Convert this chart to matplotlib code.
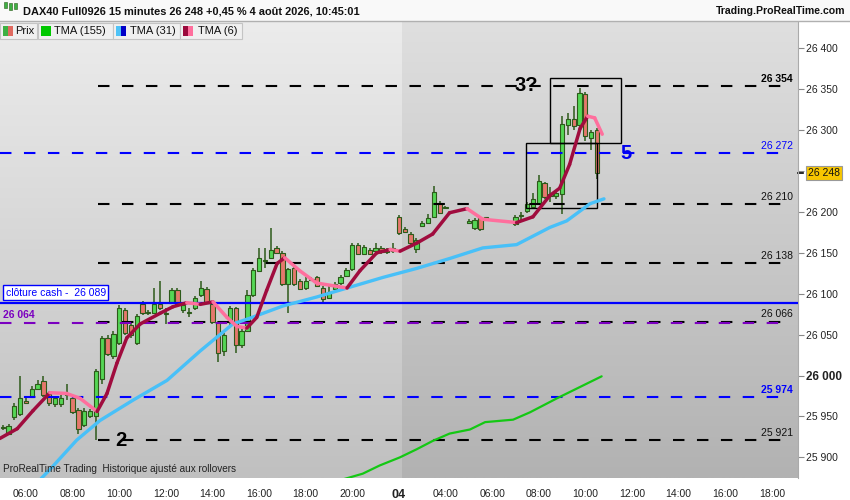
import matplotlib
matplotlib.use("Agg")
import matplotlib.pyplot as plt
import numpy as np
from matplotlib.patches import Rectangle
from matplotlib.collections import LineCollection
import matplotlib.transforms as mtransforms

plt.rcParams['font.family'] = ['Liberation Sans', 'DejaVu Sans']

# 15 minute bars (index), overnight gaps have no bars
bar_idx = list(range(0, 77)) + list(range(80, 84)) + list(range(88, 103))
opens = [25936, 25929, 25949, 25953, 25969, 25974, 25984, 25993, 25978, 25965,
         25965, 25976, 25972, 25958, 25940, 25951, 25951, 25996, 26046, 26024,
         26040, 26080, 26062, 26040, 26088, 26077, 26077, 26088, 26075, 26089,
         26105, 26080, 26077, 26082, 26098, 26106, 26088, 26065, 26030, 26065,
         26082, 26037, 26055, 26098, 26128, 26140, 26144, 26156, 26150, 26112,
         26132, 26116, 26107, 26117, 26120, 26107, 26095, 26106, 26113, 26122,
         26130, 26160, 26149, 26154, 26152, 26156, 26154, 26152, 26194, 26179,
         26173, 26155, 26183, 26187, 26194, 26211, 26205,
         26187, 26180, 26193, 26193,
         26185, 26195, 26201, 26206, 26210, 26235, 26219, 26220, 26222, 26306,
         26313, 26306, 26344, 26290, 26300]
highs = [25939, 25941, 25966, 25999, 25972, 25987, 25994, 26000, 25980, 25975,
         25976, 25990, 25975, 25960, 25960, 25959, 26008, 26048, 26049, 26054,
         26086, 26083, 26064, 26075, 26091, 26080, 26107, 26116, 26082, 26107,
         26107, 26088, 26082, 26097, 26116, 26108, 26090, 26067, 26052, 26085,
         26084, 26057, 26104, 26131, 26156, 26156, 26180, 26158, 26152, 26132,
         26134, 26118, 26120, 26121, 26122, 26109, 26110, 26114, 26123, 26131,
         26162, 26162, 26159, 26156, 26162, 26158, 26156, 26162, 26196, 26181,
         26175, 26168, 26189, 26197, 26232, 26213, 26207,
         26191, 26192, 26195, 26194,
         26196, 26200, 26212, 26223, 26245, 26237, 26231, 26226, 26317, 26321,
         26330, 26351, 26346, 26300, 26302]
lows = [25933, 25927, 25946, 25950, 25965, 25972, 25982, 25974, 25963, 25962,
        25962, 25970, 25953, 25929, 25937, 25948, 25921, 25990, 26024, 26020,
        26037, 26050, 26046, 26037, 26074, 26074, 26075, 26080, 26063, 26087,
        26086, 26076, 26072, 26080, 26096, 26087, 26063, 26016, 26024, 26062,
        26028, 26034, 26053, 26096, 26126, 26132, 26142, 26148, 26110, 26076,
        26110, 26104, 26105, 26116, 26108, 26089, 26093, 26104, 26111, 26120,
        26128, 26147, 26147, 26147, 26150, 26149, 26149, 26150, 26172, 26175,
        26160, 26150, 26181, 26185, 26192, 26197, 26203,
        26185, 26178, 26177, 26192,
        26183, 26190, 26199, 26204, 26208, 26216, 26212, 26216, 26198, 26294,
        26300, 26302, 26287, 26276, 26240]
closes = [25936, 25938, 25963, 25972, 25967, 25984, 25990, 25976, 25967, 25973,
          25973, 25977, 25955, 25935, 25957, 25957, 26006, 26046, 26026, 26051,
          26083, 26052, 26049, 26073, 26076, 26078, 26088, 26082, 26076, 26105,
          26088, 26086, 26078, 26095, 26107, 26089, 26065, 26028, 26049, 26083,
          26037, 26055, 26098, 26129, 26144, 26141, 26154, 26150, 26112, 26130,
          26112, 26106, 26116, 26118, 26110, 26094, 26102, 26112, 26121, 26129,
          26160, 26149, 26157, 26149, 26156, 26151, 26151, 26156, 26174, 26176,
          26162, 26166, 26187, 26193, 26224, 26199, 26205,
          26189, 26190, 26179, 26193,
          26194, 26196, 26210, 26216, 26238, 26218, 26222, 26223, 26307, 26313,
          26305, 26345, 26293, 26298, 26248]

# moving averages (bar index, value)
tma6_x = [-0.5, 2.5, 5.2, 8.1, 11.0, 13.3, 16.2, 17.9, 19.6, 21.3, 23.6, 27.0,
          29.2, 31.6, 33.9, 36.1, 38.5, 40.2, 41.9, 43.6, 45.3, 47.1, 48.4, 51.0,
          53.9, 59.1, 61.3, 64.2, 66.5, 68.2, 71.1, 73.8, 76.7, 79.7, 82.4, 88.2,
          91.0, 93.9, 95.6, 97.3, 99.1, 100.4, 101.6, 102.9]
tma6_y = [25923, 25935, 25957, 25979, 25978, 25972, 25956, 25978, 26015, 26046,
          26063, 26076, 26084, 26089, 26087, 26090, 26071, 26060, 26058, 26071,
          26104, 26137, 26144, 26128, 26113, 26107, 26128, 26150, 26154, 26152,
          26162, 26173, 26199, 26204, 26191, 26187, 26194, 26220, 26229, 26258,
          26302, 26317, 26315, 26295]
tma31_x = [6.6, 8.1, 12.7, 16.7, 22.4, 28.2, 33.9, 39.5, 42.4, 48.1, 53.9, 59.6,
           65.3, 71.1, 76.7, 82.4, 88.2, 93.9, 96.8, 100.8, 103.2]
tma31_y = [25874, 25885, 25921, 25945, 25970, 25994, 26030, 26063, 26070, 26085,
           26096, 26108, 26120, 26131, 26143, 26156, 26160, 26181, 26189, 26210,
           26216]
tma155_x = [56.2, 58.4, 61.8, 64.7, 68.2, 71.1, 73.8, 76.7, 80.2, 82.8, 87.6,
            90.5, 95.1, 102.8]
tma155_y = [25860, 25873, 25880, 25890, 25900, 25910, 25920, 25929, 25934, 25943,
            25946, 25955, 25972, 25999]

# drawn levels
black_levels = [26354, 26210, 26138, 26066, 25921]
blue_levels = [26272, 25974]
purple_level = 26064
cash_close = 26089
last_price = 26248
box_a = (89.8, 102.0, 26205, 26284)
box_b = (93.9, 106.1, 26284, 26364)

tick_idx = [4, 12, 20, 28, 36, 44, 52, 60, 68, 76, 84, 92, 100, 108, 116, 124, 132]
tick_labels = ["06:00", "08:00", "10:00", "12:00", "14:00", "16:00", "18:00", "20:00",
               "04", "04:00", "06:00", "08:00", "10:00", "12:00", "14:00", "16:00", "18:00"]
price_ticks = [25900, 25950, 26000, 26050, 26100, 26150, 26200, 26250, 26300, 26350, 26400]

X0, X1 = -0.46, 136.5
Y0, Y1 = 25874.7, 26433.4
day_start = 68.6

fig = plt.figure(figsize=(8.5, 5), dpi=100, facecolor='white')
ax = fig.add_axes([0, 22 / 500, 798 / 850, 457 / 500])
ax.set_xlim(X0, X1)
ax.set_ylim(Y0, Y1)


def grad(top, bottom):
    t = np.linspace(0, 1, 200)[:, None, None]
    a = np.array(matplotlib.colors.to_rgb(top))
    b = np.array(matplotlib.colors.to_rgb(bottom))
    return a * (1 - t) + b * t


ax.imshow(grad('#ececec', '#c0c0c0'), extent=[X0, day_start, Y0, Y1], aspect='auto', zorder=0)
ax.imshow(grad('#dfdfdf', '#b2b2b2'), extent=[day_start, X1, Y0, Y1], aspect='auto', zorder=0)

# candles
edge = '#2d5a1a'
o = np.array(opens); c = np.array(closes)
body_col = np.where(c >= o, '#55d655', '#e5786c')
ax.vlines(bar_idx, lows, highs, color=edge, lw=1.1, zorder=2)
height = np.where(np.abs(c - o) < 0.8, 0.8, c - o)
ax.bar(bar_idx, height, bottom=o, width=0.74, color=body_col, edgecolor=edge, lw=0.8, zorder=3)

# horizontal levels
dash = dict(lw=1.5, dashes=(5.5, 6))
for lv in black_levels:
    ax.plot([16.3, 135.2], [lv, lv], color='black', zorder=4, **dash)
for lv in blue_levels:
    ax.plot([X0, 135.2], [lv, lv], color='#0000ff', zorder=4, **dash)
ax.plot([X0, 135.2], [purple_level, purple_level], color='#7b00c0', zorder=4, **dash)
ax.axhline(cash_close, color='#0000ff', lw=1.6, zorder=4)

# right side level labels
lab_style = {26354: ('black', 'bold'), 26272: ('#0000ff', 'normal'), 26210: ('#111', 'normal'),
             26138: ('#111', 'normal'), 26066: ('#111', 'normal'), 25974: ('#0000ff', 'bold'),
             25921: ('#111', 'normal')}
for lv, (col, fw) in lab_style.items():
    ax.annotate(f"{lv:,}".replace(",", " "), xy=(135.6, lv), xytext=(0, 1.5),
                textcoords='offset points', ha='right', va='bottom', fontsize=7.5,
                color=col, fontweight=fw, zorder=6)

ax.annotate("clôture cash -  26 089", xy=(X0, cash_close), xytext=(4, 3.5),
            textcoords='offset points', ha='left', va='bottom', fontsize=7.5, color='#0000ff',
            bbox=dict(boxstyle='square,pad=0.25', fc='white', ec='#0000ff', lw=1), zorder=6)
ax.annotate("26 064", xy=(X0, purple_level), xytext=(2, 2.5), textcoords='offset points',
            ha='left', va='bottom', fontsize=7.5, color='#7b00c0', fontweight='bold', zorder=6)

# boxes and wave counts
for x0, x1, y0, y1 in (box_a, box_b):
    ax.add_patch(Rectangle((x0, y0), x1 - x0, y1 - y0, fill=False, ec='black', lw=1, zorder=5))
ax.text(89.8, 26354, "3?", fontsize=14.5, fontweight='bold', ha='center', va='center', zorder=6)
ax.text(107.0, 26272, "5", fontsize=14.5, fontweight='bold', color='#0000ee', ha='center', va='center', zorder=6)
ax.text(20.3, 25921, "2", fontsize=14.5, fontweight='bold', ha='center', va='center', zorder=6)

# moving averages
ax.plot(tma155_x, tma155_y, color='#14c814', lw=1.6, zorder=7, solid_capstyle='round')
ax.plot(tma31_x, tma31_y, color='#48c0f8', lw=2.4, zorder=7, solid_capstyle='round')
pts = np.column_stack([tma6_x, tma6_y])
segs = np.stack([pts[:-1], pts[1:]], axis=1)
seg_col = ['#a00c3e' if b >= a else '#ff6f9d' for a, b in zip(tma6_y[:-1], tma6_y[1:])]
ax.add_collection(LineCollection(segs, colors=seg_col, lw=2.5, zorder=8, capstyle='round'))

ax.text(0.004, 0.008, "ProRealTime Trading  Historique ajusté aux rollovers", transform=ax.transAxes,
        fontsize=7.2, color='#222', ha='left', va='bottom', zorder=9)

# axes
ax.yaxis.tick_right()
ax.set_yticks(price_ticks)
ax.set_yticklabels([f"{v:,}".replace(",", " ") for v in price_ticks])
ax.tick_params(axis='y', direction='out', length=4, color='#888', labelsize=7.5,
               labelcolor='#222', pad=2)
for t in ax.get_yticklabels():
    if t.get_text() == "26 000":
        t.set_fontweight('bold')
        t.set_fontsize(8.5)
ax.set_xticks(tick_idx)
ax.set_xticklabels(tick_labels)
ax.tick_params(axis='x', length=0, labelsize=7.5, labelcolor='#222', pad=8)
for t in ax.get_xticklabels():
    if t.get_text() == "04":
        t.set_fontweight('bold')
        t.set_fontsize(9)
for s in ('top', 'left', 'bottom'):
    ax.spines[s].set_visible(False)
ax.spines['right'].set_color('#aaaaaa')

# last price marker
trans = mtransforms.blended_transform_factory(ax.transAxes, ax.transData)
ax.plot([1.0, 1.006], [last_price, last_price], color='black', lw=1.2, transform=trans, clip_on=False)
ax.annotate("26 248", xy=(1.0, last_price), xycoords=trans, xytext=(7, 0),
            textcoords='offset points', ha='left', va='center', fontsize=7.5, color='#111',
            bbox=dict(boxstyle='square,pad=0.2', fc='#f7c600', ec='#999999', lw=0.8),
            annotation_clip=False)

# header bar and legend
def fx(x):
    return x / 850


def fy(y):
    return 1 - y / 500


fig.patches.append(Rectangle((0, fy(21)), 1, 21 / 500, transform=fig.transFigure,
                             fc='#f9f9f9', ec='none', zorder=0))
fig.add_artist(plt.Line2D([0, 1], [fy(21), fy(21)], color='#b0b0b0', lw=1, transform=fig.transFigure))
for i, (top, bot) in enumerate([(10, 4), (13, 6), (11, 5)]):
    fig.add_artist(Rectangle((fx(4 + i * 5), fy(bot + 4)), fx(3), (top - bot) / 500,
                             transform=fig.transFigure, fc='#3cb043', ec='#2d5a1a', lw=0.4))
fig.text(fx(23), fy(11), "DAX40 Full0926 15 minutes 26 248 +0,45 % 4 août 2026, 10:45:01",
         fontsize=7.9, fontweight='bold', va='center', ha='left', color='#111')
fig.text(fx(845), fy(11), "Trading.ProRealTime.com", fontsize=7.6, fontweight='bold',
         va='center', ha='right', color='#111')

legend_items = [
    (0, 37, ['#3cb043', '#e06a60'], "Prix", 15),
    (38, 113, ['#00c800'], "TMA (155)", 54),
    (113, 180, ['#4fc3f7', '#0000c8'], "TMA (31)", 130),
    (180, 242, ['#9b0a3c', '#ff6f9d'], "TMA (6)", 198),
]
for x0, x1, cols, label, tx in legend_items:
    fig.add_artist(Rectangle((fx(x0), fy(39)), fx(x1 - x0), 16 / 500, transform=fig.transFigure,
                             fc='#f0f0f0', ec='#c4c4c4', lw=0.8))
    if len(cols) == 1:
        fig.add_artist(Rectangle((fx(x0 + 3), fy(36)), fx(10), 10 / 500, transform=fig.transFigure,
                                 fc=cols[0], ec='none'))
    else:
        for k, col in enumerate(cols):
            fig.add_artist(Rectangle((fx(x0 + 3 + 5 * k), fy(36)), fx(5), 10 / 500,
                                     transform=fig.transFigure, fc=col, ec='none'))
    fig.text(fx(tx), fy(31), label, fontsize=8, va='center', ha='left', color='#111')

fig.savefig("out.png", dpi=100, facecolor=fig.get_facecolor())
